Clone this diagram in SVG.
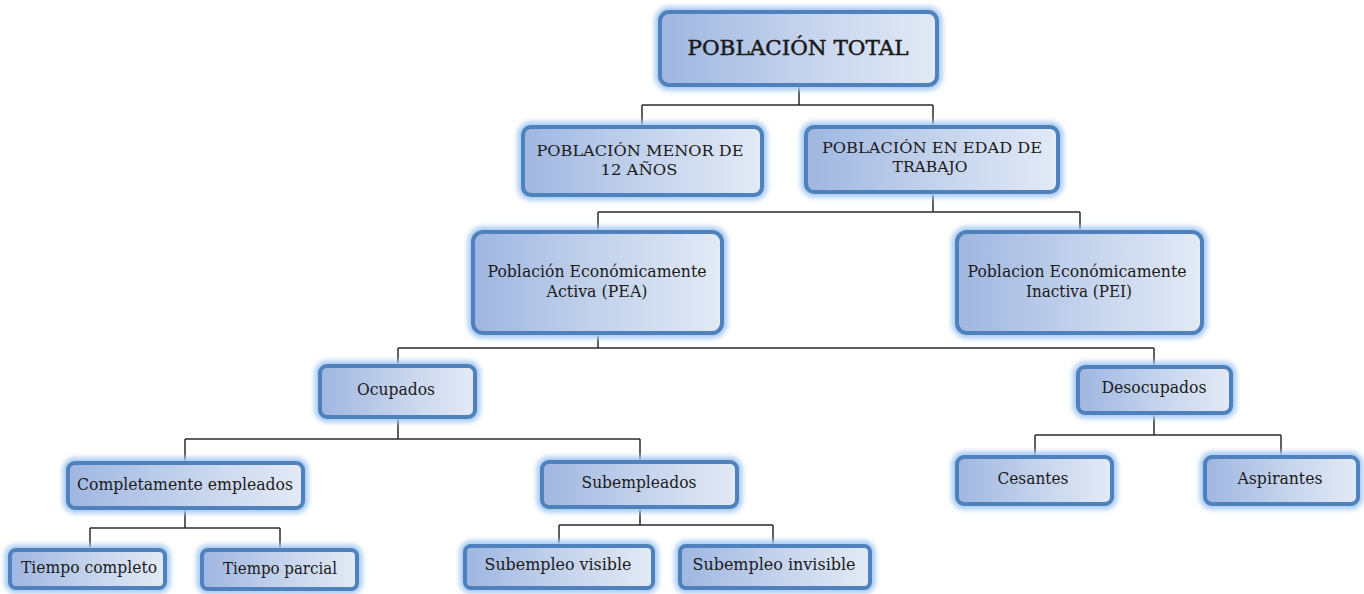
<svg xmlns="http://www.w3.org/2000/svg" width="1364" height="594" viewBox="0 0 1364 594">
<defs>
<linearGradient id="g" x1="0" y1="0" x2="1" y2="0">
<stop offset="0" stop-color="#9fb6e1"/>
<stop offset="0.5" stop-color="#c3d2ec"/>
<stop offset="1" stop-color="#e3eaf6"/>
</linearGradient>
<filter id="blur" x="-20%" y="-40%" width="140%" height="180%">
<feGaussianBlur stdDeviation="2.5"/>
</filter>
<style>
.glow{fill:none;stroke:#a8cbf2;stroke-width:11;filter:url(#blur);}
.box{fill:url(#g);stroke:#4f81bd;stroke-width:4;}
.t{font-family:"DejaVu Serif","Liberation Serif",serif;fill:#1a1a1a;text-anchor:middle;font-size:16.5px;}
.cap{font-size:15px;}
.big{font-size:21px;stroke:#1a1a1a;stroke-width:0.5;}
.c{fill:none;stroke:#2b2b2b;stroke-width:1.5;}
</style>
</defs>
<rect width="1364" height="594" fill="#ffffff"/>
<g id="connectors">
<path class="c" d="M799 85V105M642 105H933M642 105V127M933 105V127"/>
<path class="c" d="M933 192V212M598 212H1080M598 212V232M1080 212V232"/>
<path class="c" d="M598 333V348M398 348H1154M398 348V366M1154 348V367"/>
<path class="c" d="M398 417V439M185 439H640M185 439V463M640 439V462"/>
<path class="c" d="M1154 413V435M1035 435H1281M1035 435V457M1281 435V457"/>
<path class="c" d="M185 508V528M90 528H280M90 528V550M280 528V550"/>
<path class="c" d="M640 507V525M559 525H773M559 525V546M773 525V546"/>
</g>
<g id="n-total">
<rect class="glow" x="660" y="12" width="277" height="73" rx="9"/>
<rect class="box" x="660" y="12" width="277" height="73" rx="9"/>
<text class="t big" x="798" y="55" textLength="221" lengthAdjust="spacingAndGlyphs">POBLACIÓN TOTAL</text>
</g>
<g id="n-menor">
<rect class="glow" x="523" y="127" width="239" height="68" rx="8"/>
<rect class="box" x="523" y="127" width="239" height="68" rx="8"/>
<text class="t cap" x="640" y="156" textLength="207" lengthAdjust="spacingAndGlyphs">POBLACIÓN  MENOR DE</text>
<text class="t cap" x="639" y="175" textLength="77" lengthAdjust="spacingAndGlyphs">12 AÑOS</text>
</g>
<g id="n-edad">
<rect class="glow" x="806" y="127" width="252" height="65" rx="8"/>
<rect class="box" x="806" y="127" width="252" height="65" rx="8"/>
<text class="t cap" x="932" y="153" textLength="220" lengthAdjust="spacingAndGlyphs">POBLACIÓN  EN EDAD DE</text>
<text class="t cap" x="930" y="172" textLength="75" lengthAdjust="spacingAndGlyphs">TRABAJO</text>
</g>
<g id="n-pea">
<rect class="glow" x="473" y="232" width="249" height="101" rx="10"/>
<rect class="box" x="473" y="232" width="249" height="101" rx="10"/>
<text class="t" x="597" y="277" textLength="219" lengthAdjust="spacingAndGlyphs">Población Económicamente</text>
<text class="t" x="597" y="297" textLength="101" lengthAdjust="spacingAndGlyphs">Activa (PEA)</text>
</g>
<g id="n-pei">
<rect class="glow" x="957" y="232" width="245" height="101" rx="10"/>
<rect class="box" x="957" y="232" width="245" height="101" rx="10"/>
<text class="t" x="1077" y="277" textLength="219" lengthAdjust="spacingAndGlyphs">Poblacion Económicamente</text>
<text class="t" x="1079" y="297" textLength="106" lengthAdjust="spacingAndGlyphs">Inactiva (PEI)</text>
</g>
<g id="n-ocupados">
<rect class="glow" x="320" y="366" width="155" height="51" rx="7"/>
<rect class="box" x="320" y="366" width="155" height="51" rx="7"/>
<text class="t" x="396" y="395" textLength="78" lengthAdjust="spacingAndGlyphs">Ocupados</text>
</g>
<g id="n-desocupados">
<rect class="glow" x="1078" y="367" width="153" height="46" rx="7"/>
<rect class="box" x="1078" y="367" width="153" height="46" rx="7"/>
<text class="t" x="1154" y="393" textLength="105" lengthAdjust="spacingAndGlyphs">Desocupados</text>
</g>
<g id="n-completamente">
<rect class="glow" x="68" y="463" width="235" height="45" rx="7"/>
<rect class="box" x="68" y="463" width="235" height="45" rx="7"/>
<text class="t" x="185" y="490" textLength="216" lengthAdjust="spacingAndGlyphs">Completamente empleados</text>
</g>
<g id="n-subempleados">
<rect class="glow" x="542" y="462" width="195" height="45" rx="7"/>
<rect class="box" x="542" y="462" width="195" height="45" rx="7"/>
<text class="t" x="639" y="488" textLength="115" lengthAdjust="spacingAndGlyphs">Subempleados</text>
</g>
<g id="n-cesantes">
<rect class="glow" x="957" y="457" width="155" height="47" rx="7"/>
<rect class="box" x="957" y="457" width="155" height="47" rx="7"/>
<text class="t" x="1033" y="484" textLength="71" lengthAdjust="spacingAndGlyphs">Cesantes</text>
</g>
<g id="n-aspirantes">
<rect class="glow" x="1205" y="457" width="153" height="47" rx="7"/>
<rect class="box" x="1205" y="457" width="153" height="47" rx="7"/>
<text class="t" x="1280" y="484" textLength="85" lengthAdjust="spacingAndGlyphs">Aspirantes</text>
</g>
<g id="n-tcompleto">
<rect class="glow" x="10" y="550" width="155" height="38" rx="6"/>
<rect class="box" x="10" y="550" width="155" height="38" rx="6"/>
<text class="t" x="89" y="573" textLength="136" lengthAdjust="spacingAndGlyphs">Tiempo completo</text>
</g>
<g id="n-tparcial">
<rect class="glow" x="202" y="550" width="155" height="39" rx="6"/>
<rect class="box" x="202" y="550" width="155" height="39" rx="6"/>
<text class="t" x="280" y="574" textLength="114" lengthAdjust="spacingAndGlyphs">Tiempo parcial</text>
</g>
<g id="n-svisible">
<rect class="glow" x="465" y="546" width="188" height="42" rx="6"/>
<rect class="box" x="465" y="546" width="188" height="42" rx="6"/>
<text class="t" x="558" y="570" textLength="147" lengthAdjust="spacingAndGlyphs">Subempleo visible</text>
</g>
<g id="n-sinvisible">
<rect class="glow" x="680" y="546" width="190" height="42" rx="6"/>
<rect class="box" x="680" y="546" width="190" height="42" rx="6"/>
<text class="t" x="774" y="570" textLength="163" lengthAdjust="spacingAndGlyphs">Subempleo invisible</text>
</g>
</svg>
